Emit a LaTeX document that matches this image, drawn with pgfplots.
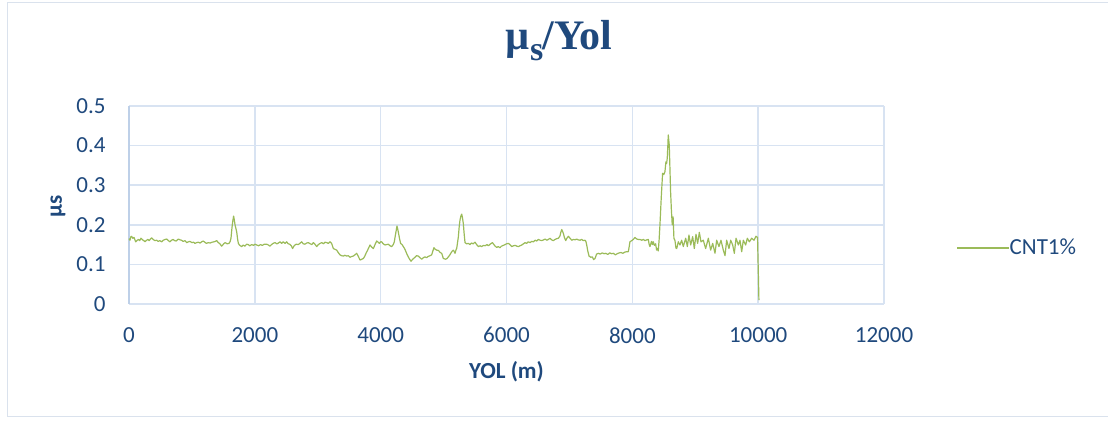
\documentclass[border=0pt]{standalone}
\usepackage{pgfplots}
\pgfplotsset{compat=1.18}
\usepackage{fontspec}
\setmainfont{Carlito}
\newfontfamily\titlefont{Liberation Serif}

\definecolor{txtblue}{RGB}{31,73,125}
\definecolor{cntgreen}{RGB}{155,187,89}
\definecolor{gridblue}{RGB}{216,227,242}
\definecolor{axisblue}{RGB}{190,208,232}
\definecolor{framegray}{RGB}{218,226,237}

% friction coefficient along the track, CNT 1%
\pgfplotstableread{
x y
0 0.165
16 0.161
30 0.170
42 0.171
60 0.166
80 0.168
106 0.157
125 0.160
148 0.163
170 0.160
190 0.166
215 0.162
235 0.160
254 0.157
280 0.161
300 0.163
320 0.160
340 0.164
360 0.167
385 0.163
410 0.160
440 0.161
465 0.158
490 0.160
520 0.157
545 0.161
575 0.163
600 0.164
625 0.160
652 0.157
675 0.161
700 0.163
725 0.160
750 0.159
784 0.164
810 0.162
835 0.161
860 0.158
890 0.160
917 0.155
945 0.157
970 0.158
1000 0.155
1025 0.156
1049 0.153
1075 0.155
1100 0.156
1130 0.154
1155 0.157
1181 0.159
1205 0.156
1230 0.153
1260 0.155
1290 0.154
1320 0.156
1350 0.157
1370 0.158
1393 0.160
1420 0.155
1445 0.152
1473 0.146
1500 0.151
1526 0.155
1560 0.152
1590 0.153
1608 0.158
1621 0.166
1632 0.185
1642 0.200
1652 0.212
1663 0.222
1674 0.212
1685 0.200
1700 0.190
1712 0.182
1725 0.165
1738 0.153
1760 0.148
1791 0.145
1815 0.149
1840 0.146
1870 0.151
1896 0.150
1920 0.147
1950 0.150
1980 0.148
2002 0.151
2029 0.149
2060 0.147
2090 0.150
2120 0.148
2150 0.151
2188 0.151
2215 0.149
2240 0.146
2265 0.150
2290 0.153
2320 0.155
2350 0.152
2375 0.154
2400 0.157
2425 0.153
2452 0.157
2480 0.153
2506 0.157
2530 0.152
2555 0.151
2580 0.147
2601 0.140
2620 0.146
2638 0.149
2660 0.151
2690 0.150
2715 0.153
2744 0.157
2770 0.152
2797 0.151
2825 0.154
2850 0.155
2880 0.152
2905 0.150
2930 0.155
2955 0.151
2983 0.145
3010 0.150
3036 0.153
3065 0.155
3090 0.152
3115 0.156
3140 0.155
3170 0.153
3195 0.157
3220 0.153
3248 0.140
3275 0.138
3301 0.136
3325 0.130
3354 0.124
3380 0.122
3407 0.121
3430 0.123
3460 0.121
3485 0.122
3513 0.118
3540 0.120
3565 0.121
3590 0.124
3619 0.128
3645 0.120
3672 0.111
3700 0.113
3725 0.115
3745 0.120
3767 0.128
3790 0.135
3810 0.142
3831 0.149
3855 0.144
3884 0.140
3910 0.150
3937 0.159
3960 0.156
3979 0.153
4000 0.157
4016 0.157
4040 0.152
4069 0.149
4095 0.150
4120 0.151
4150 0.147
4175 0.145
4200 0.150
4217 0.157
4230 0.170
4243 0.182
4259 0.197
4270 0.190
4280 0.182
4300 0.165
4317 0.153
4340 0.150
4360 0.145
4380 0.140
4402 0.132
4420 0.125
4439 0.119
4460 0.113
4482 0.108
4510 0.113
4545 0.118
4570 0.122
4598 0.121
4625 0.117
4651 0.113
4680 0.117
4704 0.119
4730 0.117
4755 0.120
4785 0.122
4810 0.124
4830 0.134
4847 0.142
4870 0.138
4890 0.136
4920 0.135
4945 0.130
4970 0.128
4996 0.115
5033 0.113
5055 0.115
5076 0.119
5100 0.124
5118 0.129
5140 0.134
5155 0.136
5170 0.132
5182 0.128
5200 0.138
5208 0.140
5222 0.155
5235 0.170
5248 0.195
5261 0.212
5275 0.222
5288 0.227
5300 0.218
5314 0.203
5328 0.175
5341 0.155
5365 0.152
5394 0.153
5420 0.150
5445 0.154
5470 0.152
5500 0.156
5525 0.150
5553 0.145
5580 0.147
5605 0.145
5635 0.148
5660 0.147
5690 0.150
5712 0.147
5740 0.151
5776 0.155
5800 0.150
5820 0.146
5844 0.143
5870 0.145
5895 0.142
5920 0.146
5950 0.148
5977 0.150
6000 0.152
6030 0.153
6055 0.150
6083 0.145
6110 0.147
6140 0.148
6165 0.146
6190 0.145
6215 0.147
6242 0.149
6270 0.152
6295 0.155
6320 0.153
6345 0.157
6375 0.155
6400 0.158
6427 0.157
6455 0.161
6480 0.159
6507 0.163
6535 0.161
6560 0.160
6590 0.162
6615 0.164
6640 0.161
6666 0.163
6690 0.166
6715 0.162
6745 0.160
6770 0.163
6800 0.165
6825 0.166
6850 0.172
6865 0.182
6878 0.188
6890 0.184
6904 0.178
6920 0.168
6941 0.160
6960 0.166
6984 0.171
7010 0.166
7037 0.161
7065 0.163
7090 0.162
7115 0.164
7140 0.162
7169 0.161
7195 0.163
7220 0.160
7249 0.161
7262 0.158
7275 0.149
7290 0.135
7312 0.121
7340 0.118
7365 0.119
7385 0.112
7407 0.115
7432 0.126
7460 0.128
7490 0.126
7520 0.129
7550 0.127
7580 0.128
7610 0.125
7640 0.129
7670 0.127
7700 0.128
7730 0.124
7760 0.127
7790 0.129
7820 0.130
7850 0.128
7880 0.131
7910 0.132
7936 0.132
7950 0.145
7962 0.157
7990 0.160
8015 0.163
8042 0.168
8070 0.164
8095 0.163
8122 0.163
8150 0.161
8175 0.163
8200 0.160
8230 0.162
8254 0.163
8268 0.150
8280 0.145
8305 0.158
8320 0.150
8333 0.157
8350 0.148
8370 0.152
8386 0.136
8400 0.140
8412 0.134
8425 0.160
8439 0.200
8460 0.270
8481 0.330
8500 0.327
8518 0.334
8534 0.359
8545 0.355
8555 0.368
8563 0.395
8571 0.427
8587 0.401
8598 0.340
8608 0.284
8620 0.240
8634 0.200
8648 0.220
8661 0.166
8678 0.160
8693 0.141
8705 0.140
8731 0.157
8757 0.149
8784 0.161
8810 0.145
8848 0.166
8874 0.145
8900 0.174
8927 0.149
8959 0.170
8985 0.140
9012 0.176
9038 0.153
9065 0.181
9091 0.157
9128 0.161
9165 0.140
9208 0.166
9245 0.136
9277 0.153
9314 0.128
9340 0.161
9377 0.145
9409 0.161
9446 0.136
9473 0.122
9499 0.161
9536 0.140
9563 0.161
9595 0.149
9621 0.128
9648 0.166
9685 0.149
9711 0.161
9738 0.132
9764 0.161
9801 0.149
9828 0.166
9860 0.157
9897 0.166
9934 0.161
9965 0.171
9990 0.168
10012 0.010
}\cntdata

\begin{document}
\begin{tikzpicture}
\path[use as bounding box] (0,0) rectangle (554pt,210.5pt);
\begin{scope}
\clip (0,0) rectangle (554pt,210.5pt);
\draw[framegray, line width=0.6pt] (3.8pt,2.3pt) rectangle (560pt,209.3pt);
\end{scope}

\begin{axis}[
  at={(64.5pt,58.5pt)}, anchor=south west,
  scale only axis, width=377.5pt, height=99pt,
  xmin=0, xmax=12000, ymin=0, ymax=0.5,
  xtick={0,2000,4000,6000,8000,10000,12000},
  xticklabels={0,2000,4000,6000,8000,10000,12000},
  scaled x ticks=false, scaled y ticks=false,
  ytick={0,0.1,0.2,0.3,0.4,0.5},
  yticklabels={0,0.1,0.2,0.3,0.4,0.5},
  grid=major,
  major grid style={gridblue, line width=0.8pt},
  axis x line=bottom, axis y line=left,
  axis line style={-},
  x axis line style={gridblue, line width=0.8pt},
  y axis line style={axisblue, line width=0.8pt},
  major tick length=0pt, tick style={draw=none},
  tick label style={font=\fontsize{11.5}{13}\selectfont, text=txtblue},
  yticklabel style={inner sep=0pt, anchor=east, xshift=-11.5pt},
  xticklabel style={inner sep=0pt, anchor=north, yshift=-11.5pt},
  title={\titlefont\bfseries\fontsize{21}{24}\selectfont µ\raisebox{-5.5pt}{\fontsize{17}{18}\selectfont s}\kern-0.5pt/Yol},
  title style={at={(axis description cs:0.5698,1)}, anchor=base, yshift=22pt, text=txtblue, inner sep=0pt},
  xlabel={YOL (m)},
  xlabel style={at={(axis description cs:0.5,0)}, anchor=base, yshift=-37.5pt, inner sep=0pt, font=\bfseries\fontsize{11.5}{13}\selectfont, text=txtblue},
  legend style={at={(axis description cs:1.0954,0.283)}, anchor=west, draw=none, fill=none,
    inner sep=0pt, font=\fontsize{11.5}{13}\selectfont, text=txtblue,
    nodes={inner sep=0pt}, /tikz/every even column/.append style={column sep=4pt}},
  legend image code/.code={\draw[#1] (0pt,0pt) -- (26pt,0pt);},
  clip=false,
]
\addplot[cntgreen, line width=0.6pt, mark=none, line join=round] table[x=x, y=y] {\cntdata};
\addlegendentry{CNT1\%}
\end{axis}
% y-axis title
\node[rotate=90, anchor=center, inner sep=0pt, text=txtblue,
      font=\bfseries\fontsize{11.5}{13}\selectfont] at (29pt,107.5pt) {µs};
\end{tikzpicture}
\end{document}
